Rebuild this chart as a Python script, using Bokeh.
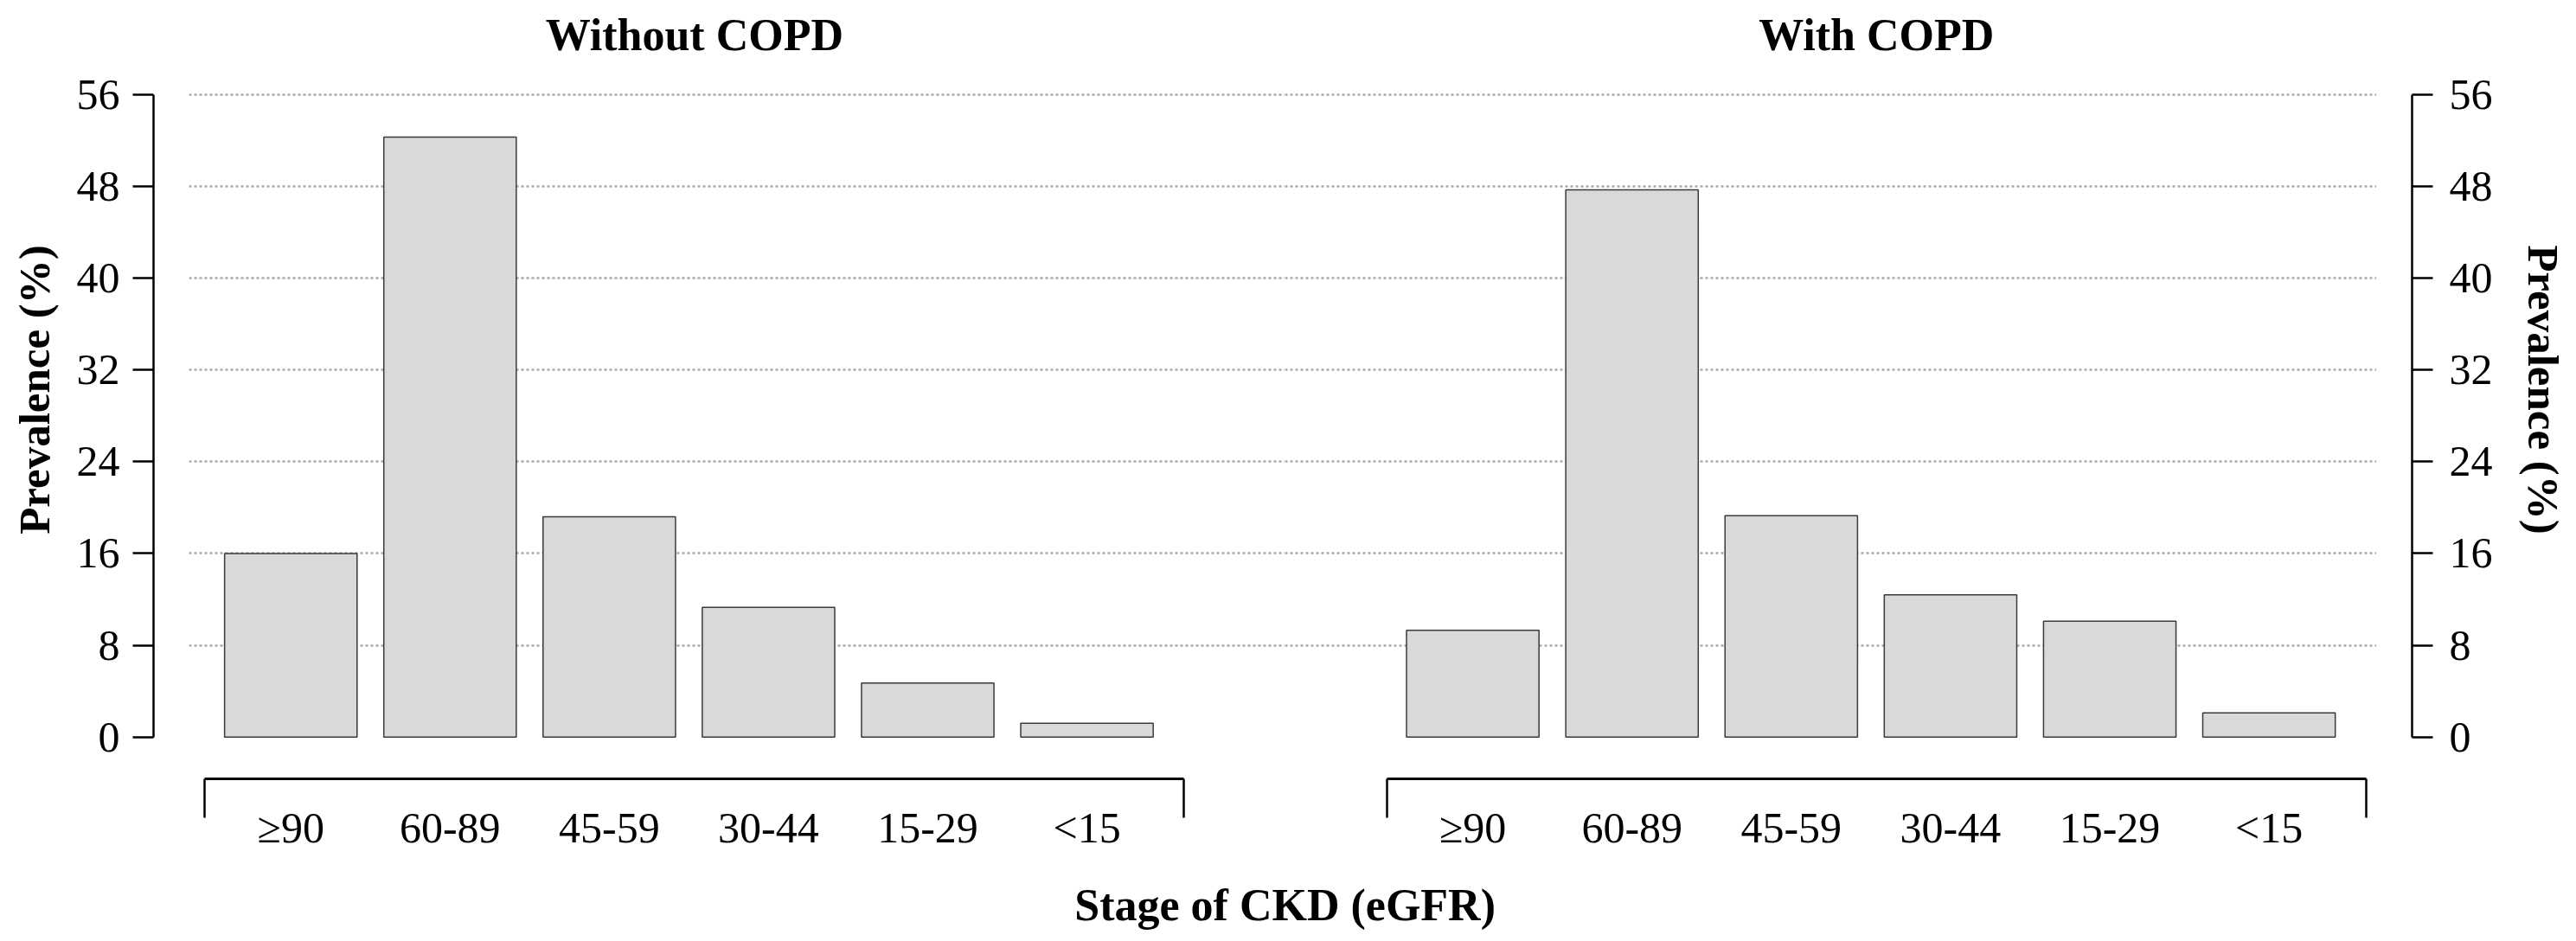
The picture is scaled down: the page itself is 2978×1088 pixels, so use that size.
from bokeh.plotting import figure
from bokeh.models import Range1d, FixedTicker, Label, ColumnDataSource, Grid
from bokeh.layouts import row, column
from bokeh.embed import file_html
from bokeh.resources import INLINE

# ---- data ----
stages = ["≥90", "60-89", "45-59", "30-44", "15-29", "<15"]
without_copd = [16.0, 52.3, 19.2, 11.3, 4.7, 1.2]
with_copd = [9.3, 47.7, 19.3, 12.4, 10.1, 2.1]
y_ticks = [0, 8, 16, 24, 32, 40, 48, 56]
panel_titles = ["Without COPD", "With COPD"]
y_label = "Prevalence (%)"
x_label = "Stage of CKD (eGFR)"

# ---- styling / layout ----
SERIF = "Liberation Serif"
H = 990
BOTTOM = 90
BAR_FILL = "#d9d9d9"
BAR_LINE = "#3a3a3a"
GRID_COLOR = "#a8a8a8"
y_range = Range1d(-3.64, 64.21)
bracket = (-0.54, 5.61)


def axis_fig(width, side):
    p = figure(width=width, height=H, x_range=Range1d(0, 1), y_range=y_range,
               output_backend="svg", toolbar_location=None, title=None,
               x_axis_location=None, y_axis_location=side,
               min_border=0, min_border_bottom=BOTTOM,
               min_border_left=177 if side == "left" else 0,
               min_border_right=190 if side == "right" else 0)
    p.grid.visible = False
    p.outline_line_color = None
    ax = p.yaxis[0]
    ax.ticker = FixedTicker(ticks=y_ticks)
    ax.bounds = (y_ticks[0], y_ticks[-1])
    ax.axis_line_width = 2.5
    ax.axis_line_color = "black"
    ax.major_tick_line_width = 2.5
    ax.major_tick_line_color = "black"
    ax.major_tick_out = 24
    ax.major_tick_in = 0
    ax.minor_tick_line_color = None
    ax.major_label_text_font = SERIF
    ax.major_label_text_font_size = "50px"
    ax.major_label_text_color = "black"
    ax.major_label_standoff = 15 if side == "left" else 19
    ax.axis_label = y_label
    ax.axis_label_text_font = SERIF
    ax.axis_label_text_font_style = "bold"
    ax.axis_label_text_font_size = "51px"
    ax.axis_label_text_color = "black"
    ax.axis_label_standoff = 18 if side == "left" else 27
    return p


def panel(width, values, title, x0, x1):
    p = figure(width=width, height=H, x_range=Range1d(x0, x1), y_range=y_range,
               output_backend="svg", toolbar_location=None, title=None,
               x_axis_location="below", y_axis_location=None,
               min_border=0, min_border_bottom=BOTTOM)
    p.grid.visible = False
    p.outline_line_color = None
    p.add_layout(Grid(dimension=1, ticker=FixedTicker(ticks=y_ticks[1:]),
                      grid_line_color=GRID_COLOR, grid_line_dash="3 3",
                      grid_line_width=2.5), "center")
    src = ColumnDataSource(dict(x=list(range(len(stages))), top=values))
    p.vbar(x="x", top="top", bottom=0, width=0.832, source=src,
           fill_color=BAR_FILL, line_color=BAR_LINE, line_width=1.5)
    ax = p.xaxis[0]
    ax.ticker = FixedTicker(ticks=list(range(len(stages))), minor_ticks=list(bracket))
    ax.bounds = bracket
    ax.major_label_overrides = {i: s for i, s in enumerate(stages)}
    ax.major_tick_line_color = None
    ax.major_tick_out = 0
    ax.major_tick_in = 0
    ax.minor_tick_out = 45
    ax.minor_tick_in = 0
    ax.minor_tick_line_width = 2.5
    ax.minor_tick_line_color = "black"
    ax.axis_line_width = 3
    ax.axis_line_color = "black"
    ax.major_label_standoff = -17
    ax.major_label_text_font = SERIF
    ax.major_label_text_font_size = "50px"
    ax.major_label_text_color = "black"
    p.add_layout(Label(x=sum(bracket) / 2, y=61.2, text=title,
                       text_align="center", text_baseline="alphabetic",
                       text_font=SERIF, text_font_style="bold",
                       text_font_size="52px", text_color="black"))
    return p


axL = axis_fig(218, "left")
pL = panel(1267, without_copd, panel_titles[0], -0.6394, 6.2435)
pR = panel(1262, with_copd, panel_titles[1], -1.1793, 5.6757)
axR = axis_fig(231, "right")

foot = figure(width=2978, height=94, x_range=Range1d(0, 1), y_range=Range1d(0, 1),
              output_backend="svg", toolbar_location=None, title=None,
              x_axis_location=None, y_axis_location=None, min_border=0)
foot.grid.visible = False
foot.outline_line_color = None
foot.add_layout(Label(x=0.4987, y=0.404, text=x_label, text_align="center",
                      text_baseline="alphabetic", text_font=SERIF,
                      text_font_style="bold", text_font_size="52px",
                      text_color="black"))

layout = column(row(axL, pL, pR, axR, spacing=0), foot, spacing=0)

open("out.html", "w").write(file_html(layout, INLINE))
